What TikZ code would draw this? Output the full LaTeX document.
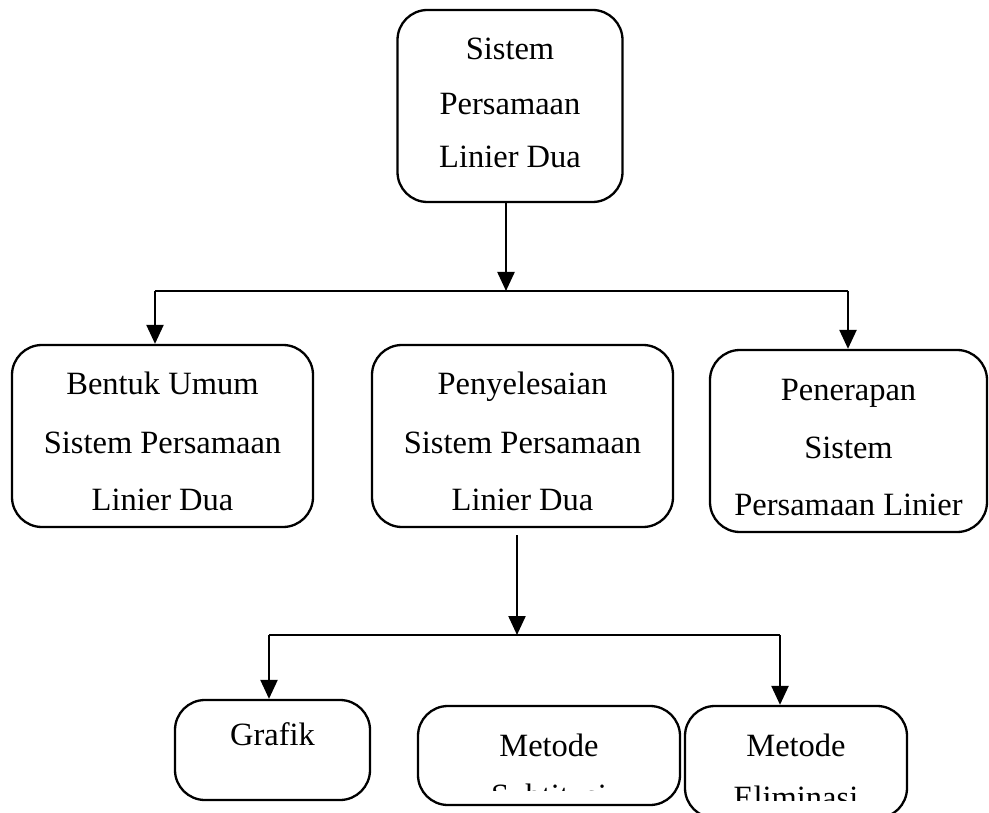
\documentclass[tikz,border=0pt]{standalone}
\usepackage{fontspec}
\setmainfont{Liberation Serif}
\usetikzlibrary{arrows.meta}
\begin{document}
\begin{tikzpicture}[x=1pt,y=-1pt,
  box/.style={draw, rounded corners=30pt, line width=2.3pt, inner sep=0pt},
  txt/.style={anchor=base, inner sep=0pt, font=\fontsize{32.5}{39}\selectfont},
  arr/.style={line width=2.3pt, -{Triangle[length=19pt,width=17pt]}},
  ln/.style={line width=2.3pt}]
\useasboundingbox (0,0) rectangle (989,813);
\clip (0,0) rectangle (989,813);
% boxes
\node[box, minimum width=225pt, minimum height=192pt] (top) at (510,106) {};
\node[box, minimum width=301pt, minimum height=182pt] (bentuk) at (162.5,436) {};
\node[box, minimum width=301pt, minimum height=182pt] (peny) at (522.5,436) {};
\node[box, minimum width=277pt, minimum height=182pt] (pener) at (848.5,441) {};
\node[box, minimum width=195pt, minimum height=100pt] (grafik) at (272.5,750) {};
\node[box, minimum width=262pt, minimum height=99pt] (subt) at (549,755.5) {};
\node[box, minimum width=222pt, minimum height=112pt] (elim) at (796,762) {};
% texts
\node[txt] at (510,60) {Sistem};
\node[txt] at (510,115) {Persamaan};
\node[txt] at (510,168) {Linier Dua};
\node[txt] at (162.5,395) {Bentuk Umum};
\node[txt] at (162.5,453) {Sistem Persamaan};
\node[txt] at (162.5,510) {Linier Dua};
\node[txt] at (522.5,395) {Penyelesaian};
\node[txt] at (522.5,453) {Sistem Persamaan};
\node[txt] at (522.5,510) {Linier Dua};
\node[txt] at (848.5,400) {Penerapan};
\node[txt] at (848.5,458) {Sistem};
\node[txt] at (848.5,515) {Persamaan Linier};
\node[txt] at (272.5,745) {Grafik};
\node[txt] at (549,756) {Metode};
\node[txt] at (796,756) {Metode};
\begin{scope}
  \clip (418,700) rectangle (680,790);
  \node[txt] at (549,806) {Subtitusi};
\end{scope}
\begin{scope}
  \clip (685,700) rectangle (907,800);
  \node[txt] at (796,808) {Eliminasi};
\end{scope}
% connectors
\coordinate (hl) at (155,291);
\coordinate (hm) at (506,291);
\coordinate (hr) at (848,291);
\draw[ln] (hl) -- (hr);
\draw[arr] (top.south -| hm) -- (hm);
\draw[arr] (hl) -- (hl |- bentuk.north);
\draw[arr] (hr) -- (hr |- pener.north);
\coordinate (gl) at (269,635);
\coordinate (gm) at (517,635);
\coordinate (gr) at (780,635);
\coordinate (ps) at (517,535);
\draw[ln] (gl) -- (gr);
\draw[arr] (ps) -- (gm);
\draw[arr] (gl) -- (gl |- grafik.north);
\draw[arr] (gr) -- (gr |- elim.north);
\end{tikzpicture}
\end{document}
